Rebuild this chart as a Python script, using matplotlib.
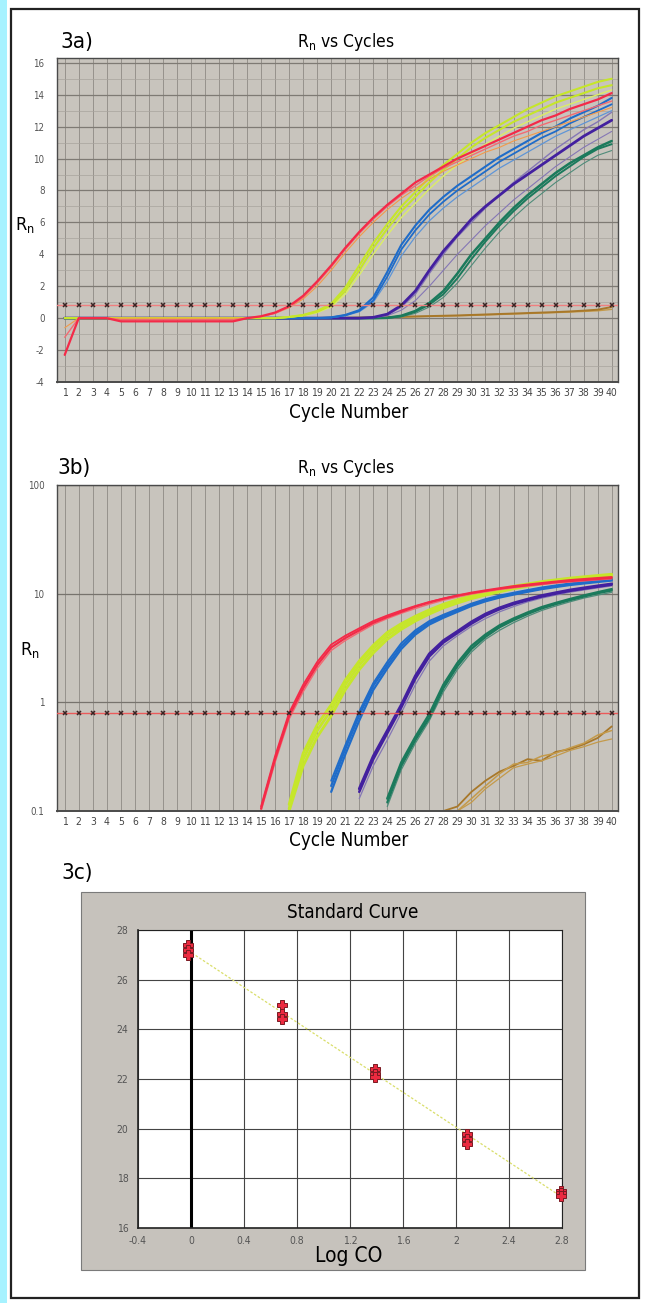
import os
import numpy as np
import matplotlib
matplotlib.use("Agg")
import matplotlib.pyplot as plt
from matplotlib import font_manager as fm
from matplotlib.patches import Rectangle

#########################
# Data
cycles = list(range(1, 41))
threshold_a = 0.8
threshold_b = 0.79

# 3a) Rn (linear), one list per well, cycles 1..40
red_a1 = [-2.3, 0.0, 0.0, 0.0, -0.2, -0.2, -0.2, -0.2, -0.2, -0.2, -0.2, -0.2, -0.2, 0.0, 0.12, 0.35, 0.75, 1.4, 2.3, 3.3,
          4.4, 5.4, 6.3, 7.1, 7.8, 8.5, 9.0, 9.5, 10.0, 10.4, 10.8, 11.2, 11.6, 12.0, 12.4, 12.7, 13.1, 13.4, 13.7, 14.1]
red_a2 = [-1.2, 0.0, 0.0, 0.0, -0.1, -0.1, -0.1, -0.1, -0.1, -0.1, -0.1, -0.1, -0.1, 0.0, 0.1, 0.3, 0.7, 1.3, 2.2, 3.2,
          4.3, 5.3, 6.2, 7.0, 7.7, 8.3, 8.9, 9.4, 9.8, 10.2, 10.6, 11.0, 11.4, 11.7, 12.1, 12.4, 12.7, 13.0, 13.3, 13.6]
red_a3 = [-0.6, 0.0, 0.0, 0.0, 0.0, 0.0, 0.0, 0.0, 0.0, 0.0, 0.0, 0.0, 0.0, 0.0, 0.1, 0.3, 0.65, 1.2, 2.0, 3.0,
          4.1, 5.1, 6.0, 6.8, 7.5, 8.1, 8.7, 9.2, 9.6, 10.0, 10.4, 10.7, 11.1, 11.4, 11.7, 12.0, 12.3, 12.6, 12.9, 13.2]
yel_a1 = [0.0, 0.0, 0.0, 0.0, 0.0, 0.0, 0.0, 0.0, 0.0, 0.0, 0.0, 0.0, 0.0, 0.0, 0.0, 0.0, 0.08, 0.2, 0.45, 0.9,
          1.9, 3.3, 4.7, 5.9, 7.0, 7.9, 8.8, 9.6, 10.3, 11.0, 11.6, 12.1, 12.6, 13.1, 13.5, 13.9, 14.2, 14.5, 14.8, 15.0]
yel_a2 = [0.0, 0.0, 0.0, 0.0, 0.0, 0.0, 0.0, 0.0, 0.0, 0.0, 0.0, 0.0, 0.0, 0.0, 0.0, 0.0, 0.07, 0.18, 0.4, 0.8,
          1.7, 3.0, 4.4, 5.6, 6.7, 7.6, 8.5, 9.3, 10.0, 10.7, 11.3, 11.8, 12.3, 12.7, 13.1, 13.5, 13.8, 14.1, 14.4, 14.6]
yel_a3 = [0.0, 0.0, 0.0, 0.0, 0.0, 0.0, 0.0, 0.0, 0.0, 0.0, 0.0, 0.0, 0.0, 0.0, 0.0, 0.0, 0.06, 0.15, 0.35, 0.7,
          1.5, 2.7, 4.0, 5.2, 6.3, 7.2, 8.1, 8.9, 9.6, 10.3, 10.9, 11.4, 11.9, 12.3, 12.7, 13.1, 13.4, 13.7, 14.0, 14.3]
blu_a1 = [0.0, 0.0, 0.0, 0.0, 0.0, 0.0, 0.0, 0.0, 0.0, 0.0, 0.0, 0.0, 0.0, 0.0, 0.0, 0.0, 0.0, 0.0, 0.0, 0.05,
          0.2, 0.5, 1.3, 2.9, 4.6, 5.8, 6.8, 7.6, 8.3, 8.9, 9.5, 10.1, 10.6, 11.1, 11.6, 12.0, 12.5, 12.9, 13.3, 13.8]
blu_a2 = [0.0, 0.0, 0.0, 0.0, 0.0, 0.0, 0.0, 0.0, 0.0, 0.0, 0.0, 0.0, 0.0, 0.0, 0.0, 0.0, 0.0, 0.0, 0.0, 0.04,
          0.18, 0.45, 1.1, 2.6, 4.3, 5.5, 6.5, 7.3, 8.0, 8.6, 9.2, 9.8, 10.3, 10.8, 11.3, 11.7, 12.2, 12.6, 13.0, 13.4]
blu_a3 = [0.0, 0.0, 0.0, 0.0, 0.0, 0.0, 0.0, 0.0, 0.0, 0.0, 0.0, 0.0, 0.0, 0.0, 0.0, 0.0, 0.0, 0.0, 0.0, 0.04,
          0.15, 0.4, 1.0, 2.3, 3.9, 5.1, 6.1, 6.9, 7.6, 8.2, 8.8, 9.4, 9.9, 10.4, 10.9, 11.4, 11.8, 12.2, 12.6, 13.0]
pur_a1 = [0.0, 0.0, 0.0, 0.0, 0.0, 0.0, 0.0, 0.0, 0.0, 0.0, 0.0, 0.0, 0.0, 0.0, 0.0, 0.0, 0.0, 0.0, 0.0, 0.0,
          0.0, 0.0, 0.05, 0.25, 0.8, 1.7, 3.0, 4.2, 5.2, 6.2, 7.0, 7.7, 8.4, 9.0, 9.6, 10.2, 10.8, 11.4, 11.9, 12.4]
pur_a2 = [0.0, 0.0, 0.0, 0.0, 0.0, 0.0, 0.0, 0.0, 0.0, 0.0, 0.0, 0.0, 0.0, 0.0, 0.0, 0.0, 0.0, 0.0, 0.0, 0.0,
          0.0, 0.0, 0.04, 0.2, 0.7, 1.5, 2.8, 4.0, 5.1, 6.0, 6.9, 7.7, 8.5, 9.2, 9.9, 10.6, 11.2, 11.8, 12.3, 12.9]
pur_a3 = [0.0, 0.0, 0.0, 0.0, 0.0, 0.0, 0.0, 0.0, 0.0, 0.0, 0.0, 0.0, 0.0, 0.0, 0.0, 0.0, 0.0, 0.0, 0.0, 0.0,
          0.0, 0.0, 0.03, 0.15, 0.5, 1.1, 2.0, 3.0, 4.0, 4.9, 5.8, 6.6, 7.4, 8.1, 8.8, 9.5, 10.1, 10.7, 11.2, 11.7]
grn_a1 = [0.0, 0.0, 0.0, 0.0, 0.0, 0.0, 0.0, 0.0, 0.0, 0.0, 0.0, 0.0, 0.0, 0.0, 0.0, 0.0, 0.0, 0.0, 0.0, 0.0,
          0.0, 0.0, 0.0, 0.02, 0.15, 0.45, 0.95, 1.7, 2.8, 4.0, 5.0, 6.0, 6.9, 7.7, 8.4, 9.1, 9.7, 10.2, 10.7, 11.1]
grn_a2 = [0.0, 0.0, 0.0, 0.0, 0.0, 0.0, 0.0, 0.0, 0.0, 0.0, 0.0, 0.0, 0.0, 0.0, 0.0, 0.0, 0.0, 0.0, 0.0, 0.0,
          0.0, 0.0, 0.0, 0.02, 0.12, 0.4, 0.85, 1.5, 2.5, 3.7, 4.8, 5.8, 6.7, 7.5, 8.2, 8.9, 9.5, 10.1, 10.6, 10.9]
grn_a3 = [0.0, 0.0, 0.0, 0.0, 0.0, 0.0, 0.0, 0.0, 0.0, 0.0, 0.0, 0.0, 0.0, 0.0, 0.0, 0.0, 0.0, 0.0, 0.0, 0.0,
          0.0, 0.0, 0.0, 0.0, 0.08, 0.3, 0.7, 1.3, 2.2, 3.3, 4.4, 5.4, 6.3, 7.1, 7.8, 8.5, 9.1, 9.7, 10.2, 10.5]
brn_a1 = [0.0, 0.0, 0.0, 0.0, 0.0, 0.0, 0.0, 0.0, 0.0, 0.0, 0.0, 0.0, 0.0, 0.0, 0.0, 0.0, 0.0, 0.0, 0.0, 0.0,
          0.02, 0.04, 0.05, 0.07, 0.09, 0.11, 0.13, 0.15, 0.17, 0.2, 0.23, 0.26, 0.29, 0.32, 0.35, 0.38, 0.42, 0.47, 0.53, 0.7]
brn_a2 = [0.0, 0.0, 0.0, 0.0, 0.0, 0.0, 0.0, 0.0, 0.0, 0.0, 0.0, 0.0, 0.0, 0.0, 0.0, 0.0, 0.0, 0.0, 0.0, 0.0,
          0.01, 0.02, 0.03, 0.05, 0.07, 0.09, 0.11, 0.13, 0.15, 0.17, 0.2, 0.23, 0.26, 0.29, 0.32, 0.35, 0.38, 0.42, 0.46, 0.55]

# 3b) Rn (log), only the part above 0.1; first cycle of each well given separately
red_b_start = 15
red_b1 = [0.105, 0.30, 0.75, 1.35, 2.2, 3.2, 3.9, 4.6, 5.4, 6.1, 6.8, 7.6, 8.3, 9.0, 9.6, 10.2, 10.7, 11.2, 11.7,
          12.1, 12.5, 12.9, 13.3, 13.6, 13.9, 14.2]
red_b2 = [0.11, 0.32, 0.8, 1.45, 2.35, 3.4, 4.1, 4.8, 5.6, 6.3, 7.0, 7.7, 8.4, 9.0, 9.6, 10.1, 10.6, 11.1, 11.5,
          11.9, 12.3, 12.7, 13.0, 13.3, 13.6, 13.9]
red_b3 = [0.10, 0.28, 0.7, 1.25, 2.05, 3.0, 3.7, 4.4, 5.2, 5.9, 6.6, 7.3, 8.0, 8.7, 9.3, 9.9, 10.4, 10.9, 11.3,
          11.7, 12.1, 12.5, 12.8, 13.1, 13.4, 13.7]
yel_b_start = 17
yel_b1 = [0.105, 0.3, 0.55, 0.85, 1.45, 2.2, 3.1, 4.1, 5.0, 5.9, 6.8, 7.7, 8.5, 9.3, 10.0, 10.7, 11.4, 12.0, 12.6,
          13.1, 13.6, 14.0, 14.4, 14.8]
yel_b2 = [0.1, 0.26, 0.48, 0.75, 1.3, 2.0, 2.85, 3.8, 4.7, 5.6, 6.5, 7.4, 8.2, 9.0, 9.7, 10.4, 11.1, 11.7, 12.3,
          12.8, 13.3, 13.7, 14.1, 14.5]
yel_b3 = [0.115, 0.34, 0.62, 0.95, 1.6, 2.4, 3.35, 4.4, 5.3, 6.2, 7.1, 8.0, 8.8, 9.6, 10.3, 11.0, 11.7, 12.3, 12.9,
          13.4, 13.9, 14.3, 14.7, 15.1]
blu_b_start = 20
blu_b1 = [0.17, 0.37, 0.76, 1.42, 2.2, 3.3, 4.4, 5.4, 6.2, 7.0, 7.9, 8.7, 9.4, 10.0, 10.6, 11.2, 11.7, 12.2, 12.6, 13.0, 13.4]
blu_b2 = [0.15, 0.33, 0.68, 1.3, 2.05, 3.1, 4.2, 5.2, 6.0, 6.8, 7.7, 8.5, 9.2, 9.8, 10.4, 11.0, 11.5, 12.0, 12.4, 12.8, 13.2]
blu_b3 = [0.19, 0.4, 0.82, 1.5, 2.35, 3.5, 4.6, 5.6, 6.4, 7.2, 8.1, 8.9, 9.6, 10.2, 10.8, 11.4, 11.9, 12.4, 12.9, 13.3, 13.7]
pur_b_start = 22
pur_b1 = [0.16, 0.32, 0.55, 0.95, 1.75, 2.8, 3.7, 4.5, 5.5, 6.5, 7.4, 8.2, 8.9, 9.6, 10.2, 10.8, 11.3, 11.8, 12.3]
pur_b2 = [0.15, 0.3, 0.52, 0.9, 1.65, 2.65, 3.55, 4.35, 5.3, 6.3, 7.2, 8.0, 8.7, 9.4, 10.0, 10.6, 11.1, 11.6, 12.1]
pur_b3 = [0.13, 0.26, 0.45, 0.8, 1.45, 2.4, 3.3, 4.1, 5.0, 5.9, 6.8, 7.6, 8.4, 9.1, 9.7, 10.3, 10.8, 11.3, 11.8]
grn_b_start = 24
grn_b1 = [0.13, 0.28, 0.48, 0.78, 1.45, 2.3, 3.3, 4.2, 5.1, 5.9, 6.7, 7.5, 8.2, 8.9, 9.6, 10.3, 11.0]
grn_b2 = [0.12, 0.26, 0.45, 0.72, 1.35, 2.15, 3.1, 4.0, 4.9, 5.7, 6.5, 7.3, 8.0, 8.7, 9.4, 10.1, 10.7]
grn_b3 = [0.11, 0.24, 0.42, 0.68, 1.25, 2.0, 2.9, 3.8, 4.6, 5.4, 6.2, 7.0, 7.7, 8.4, 9.1, 9.7, 10.3]
brn_b1_start = 28
brn_b1 = [0.1, 0.11, 0.15, 0.19, 0.23, 0.26, 0.3, 0.29, 0.35, 0.37, 0.41, 0.47, 0.6]
brn_b2_start = 29
brn_b2 = [0.1, 0.13, 0.17, 0.22, 0.27, 0.28, 0.32, 0.34, 0.38, 0.42, 0.5, 0.55]
brn_b3 = [0.1, 0.12, 0.16, 0.2, 0.25, 0.27, 0.29, 0.32, 0.36, 0.39, 0.43, 0.46]

# 3c) standard curve
log_co = [-0.02, 0.69, 1.39, 2.08, 2.79]
ct_reps = [[27.4, 27.2, 27.0],
           [25.0, 24.6, 24.4],
           [22.4, 22.2, 22.1],
           [19.8, 19.6, 19.4],
           [17.5, 17.4, 17.3]]
#########################

W, H = 646, 1303

# the original lettering is a condensed grotesque: use a narrow face if one is installed
narrow = None
for f in fm.fontManager.ttflist:
    base = os.path.basename(f.fname).lower()
    if ('narrow' in base or 'condensed' in base) and 'bold' not in base and 'italic' not in base \
            and 'oblique' not in base and 'light' not in base:
        narrow = f
        break
if narrow is not None:
    plt.rcParams['font.family'] = [narrow.name, 'Liberation Sans', 'DejaVu Sans']
    plt.rcParams['font.stretch'] = narrow.stretch
else:
    plt.rcParams['font.family'] = ['Liberation Sans', 'DejaVu Sans']
plt.rcParams['mathtext.default'] = 'regular'
plt.rcParams['axes.unicode_minus'] = False

GREY = '#c8c4bd'
RED, RED_T, ORANGE = '#f42a48', '#f26a72', '#f39a4a'
YEL, YEL_T = '#c6e62a', '#dcee66'
BLU, BLU_T = '#1f6cc9', '#5f95d6'
PUR, PUR_T = '#43209f', '#8577b5'
GRN, GRN_T = '#1b7a5c', '#4f8c7a'
BRN, BRN_T = '#a8782a', '#c49a4a'


def box(x0, y0, x1, y1):
    # pixel box (top-left origin) -> figure fraction [l, b, w, h]
    return [x0 / W, 1 - y1 / H, (x1 - x0) / W, (y1 - y0) / H]


def ftext(x, y, s, **kw):
    fig.text(x / W, 1 - y / H, s, **kw)


def style_cycles_axis(ax):
    ax.set_facecolor(GREY)
    ax.set_xlim(0.45, 40.45)
    ax.set_xticks(cycles)
    ax.set_xticklabels([str(c) for c in cycles], fontsize=7.5, color='#444444')
    ax.tick_params(length=0, pad=4)
    ax.tick_params(axis='y', labelsize=7, labelcolor='#555555', pad=9)
    ax.grid(axis='x', color='#8e8a84', lw=0.6)
    for s in ax.spines.values():
        s.set_color('#4a4a4a')
        s.set_linewidth(1.0)
    ax.spines['bottom'].set_linewidth(1.4)
    ax.set_axisbelow(True)


fig = plt.figure(figsize=(W / 100, H / 100), dpi=100)

# cyan strip and page frame
fig.add_artist(Rectangle((0, 0), 7 / W, 1, transform=fig.transFigure, color='#a6f2ff', lw=0))
fig.add_artist(Rectangle((11 / W, 1 - 1298 / H), 628 / W, 1289 / H, transform=fig.transFigure,
                         fill=False, ec='#222222', lw=1.6))

#########################
# 3a)
ax_a = fig.add_axes(box(57, 58, 618, 382))
style_cycles_axis(ax_a)
ax_a.set_ylim(-4, 16.3)
ax_a.set_yticks(range(-4, 17, 2))
ax_a.set_yticks(range(-3, 16, 2), minor=True)
ax_a.tick_params(which='minor', length=0)
ax_a.grid(axis='y', which='major', color='#7e7a74', lw=0.9)
ax_a.grid(axis='y', which='minor', color='#a7a39d', lw=0.5)

lines_a = [(brn_a2, BRN_T, 1.0), (brn_a1, BRN, 1.4),
           (grn_a3, GRN_T, 0.8), (grn_a2, GRN, 1.4), (grn_a1, GRN, 1.8),
           (pur_a3, PUR_T, 0.8), (pur_a2, PUR_T, 1.0), (pur_a1, PUR, 2.0),
           (blu_a3, BLU_T, 0.9), (blu_a2, BLU, 1.3), (blu_a1, BLU, 1.5),
           (yel_a3, YEL_T, 1.0), (yel_a2, YEL, 1.5), (yel_a1, YEL, 1.5),
           (red_a3, ORANGE, 0.8), (red_a2, RED_T, 1.0), (red_a1, RED, 1.6)]
for vals, col, lw in lines_a:
    ax_a.plot(cycles, vals, color=col, lw=lw, solid_capstyle='round')

ax_a.axhline(threshold_a, color='#ef7f7f', lw=1.0, zorder=4)
ax_a.plot(cycles, np.full(len(cycles), threshold_a), ls='none', marker='x', ms=3.5,
          mec='#3a2424', mew=1.1, zorder=5)

ftext(60, 42, '3a)', fontsize=16, va='center', ha='left')
ftext(346, 42, 'R$_n$ vs Cycles', fontsize=12.5, va='center', ha='center')
ftext(349, 412, 'Cycle Number', fontsize=13.5, va='center', ha='center')
ftext(25, 225, 'R$_n$', fontsize=13, va='center', ha='center')

#########################
# 3b)
ax_b = fig.add_axes(box(57, 485, 618, 811))
style_cycles_axis(ax_b)
ax_b.set_yscale('log')
ax_b.set_ylim(0.1, 100)
ax_b.set_yticks([0.1, 1, 10, 100])
ax_b.set_yticklabels(['0.1', '1', '10', '100'])
ax_b.minorticks_off()
ax_b.grid(axis='y', which='major', color='#77736d', lw=0.9)

lines_b = [(brn_b1_start, brn_b1, BRN, 1.3), (brn_b2_start, brn_b2, BRN_T, 1.1), (brn_b2_start, brn_b3, BRN_T, 0.9),
           (grn_b_start, grn_b3, GRN_T, 0.9), (grn_b_start, grn_b2, GRN, 1.6), (grn_b_start, grn_b1, GRN, 1.8),
           (pur_b_start, pur_b3, PUR_T, 0.9), (pur_b_start, pur_b2, PUR, 1.8), (pur_b_start, pur_b1, PUR, 2.0),
           (blu_b_start, blu_b3, BLU, 1.4), (blu_b_start, blu_b2, BLU, 1.6), (blu_b_start, blu_b1, BLU, 1.6),
           (yel_b_start, yel_b3, YEL, 2.0), (yel_b_start, yel_b2, YEL, 2.0), (yel_b_start, yel_b1, YEL, 2.0),
           (red_b_start, red_b3, RED_T, 1.0), (red_b_start, red_b2, RED, 1.3), (red_b_start, red_b1, RED, 1.6)]
for start, vals, col, lw in lines_b:
    ax_b.plot(cycles[start - 1:start - 1 + len(vals)], vals, color=col, lw=lw, solid_capstyle='round')

ax_b.axhline(threshold_b, color='#ea5a5a', lw=1.0, zorder=4)
ax_b.plot(cycles, np.full(len(cycles), threshold_b), ls='none', marker='x', ms=3.5,
          mec='#3a2424', mew=1.1, zorder=5)

ftext(57, 468, '3b)', fontsize=16, va='center', ha='left')
ftext(346, 468, 'R$_n$ vs Cycles', fontsize=12.5, va='center', ha='center')
ftext(349, 840, 'Cycle Number', fontsize=13.5, va='center', ha='center')
ftext(30, 650, 'R$_n$', fontsize=13, va='center', ha='center')

#########################
# 3c)
fig.add_artist(Rectangle((81 / W, 1 - 1270 / H), 504 / W, 378 / H, transform=fig.transFigure,
                         fc='#c6c2bc', ec='#7a7a7a', lw=0.8, zorder=0))
ax_c = fig.add_axes(box(138, 930, 562, 1228))
ax_c.set_facecolor('white')
ax_c.set_xlim(-0.4, 2.8)
ax_c.set_ylim(16, 28)
ax_c.set_xticks([-0.4, 0, 0.4, 0.8, 1.2, 1.6, 2, 2.4, 2.8])
ax_c.set_xticklabels(['-0.4', '0', '0.4', '0.8', '1.2', '1.6', '2', '2.4', '2.8'])
ax_c.set_yticks(range(16, 29, 2))
ax_c.tick_params(length=0, labelsize=7.5, labelcolor='#555555')
ax_c.tick_params(axis='x', pad=6)
ax_c.tick_params(axis='y', pad=7)
ax_c.grid(color='#444444', lw=0.8)
ax_c.set_axisbelow(True)
for s in ax_c.spines.values():
    s.set_color('#222222')
    s.set_linewidth(0.8)
ax_c.spines['left'].set_linewidth(1.2)
ax_c.spines['bottom'].set_linewidth(1.2)
ax_c.axvline(0, color='black', lw=2.2, zorder=2)

xs = [x for x, reps in zip(log_co, ct_reps) for _ in reps]
ys = [y for reps in ct_reps for y in reps]
slope, icpt = np.polyfit(xs, ys, 1)
fit_x = np.array([log_co[0], log_co[-1]])
ax_c.plot(fit_x, slope * fit_x + icpt, color='#d9de6a', lw=0.9, ls=(0, (2, 1.5)), zorder=3)
ax_c.plot(xs, ys, ls='none', marker='P', ms=7, mfc='#ec2a40', mec='#7a1a22', mew=0.7,
          zorder=4, clip_on=False)

ftext(61, 873, '3c)', fontsize=16, va='center', ha='left')
ftext(353, 912, 'Standard Curve', fontsize=13.5, va='center', ha='center')
ftext(349, 1256, 'Log CO', fontsize=15, va='center', ha='center')

fig.savefig('out.png', dpi=100, facecolor='white')
